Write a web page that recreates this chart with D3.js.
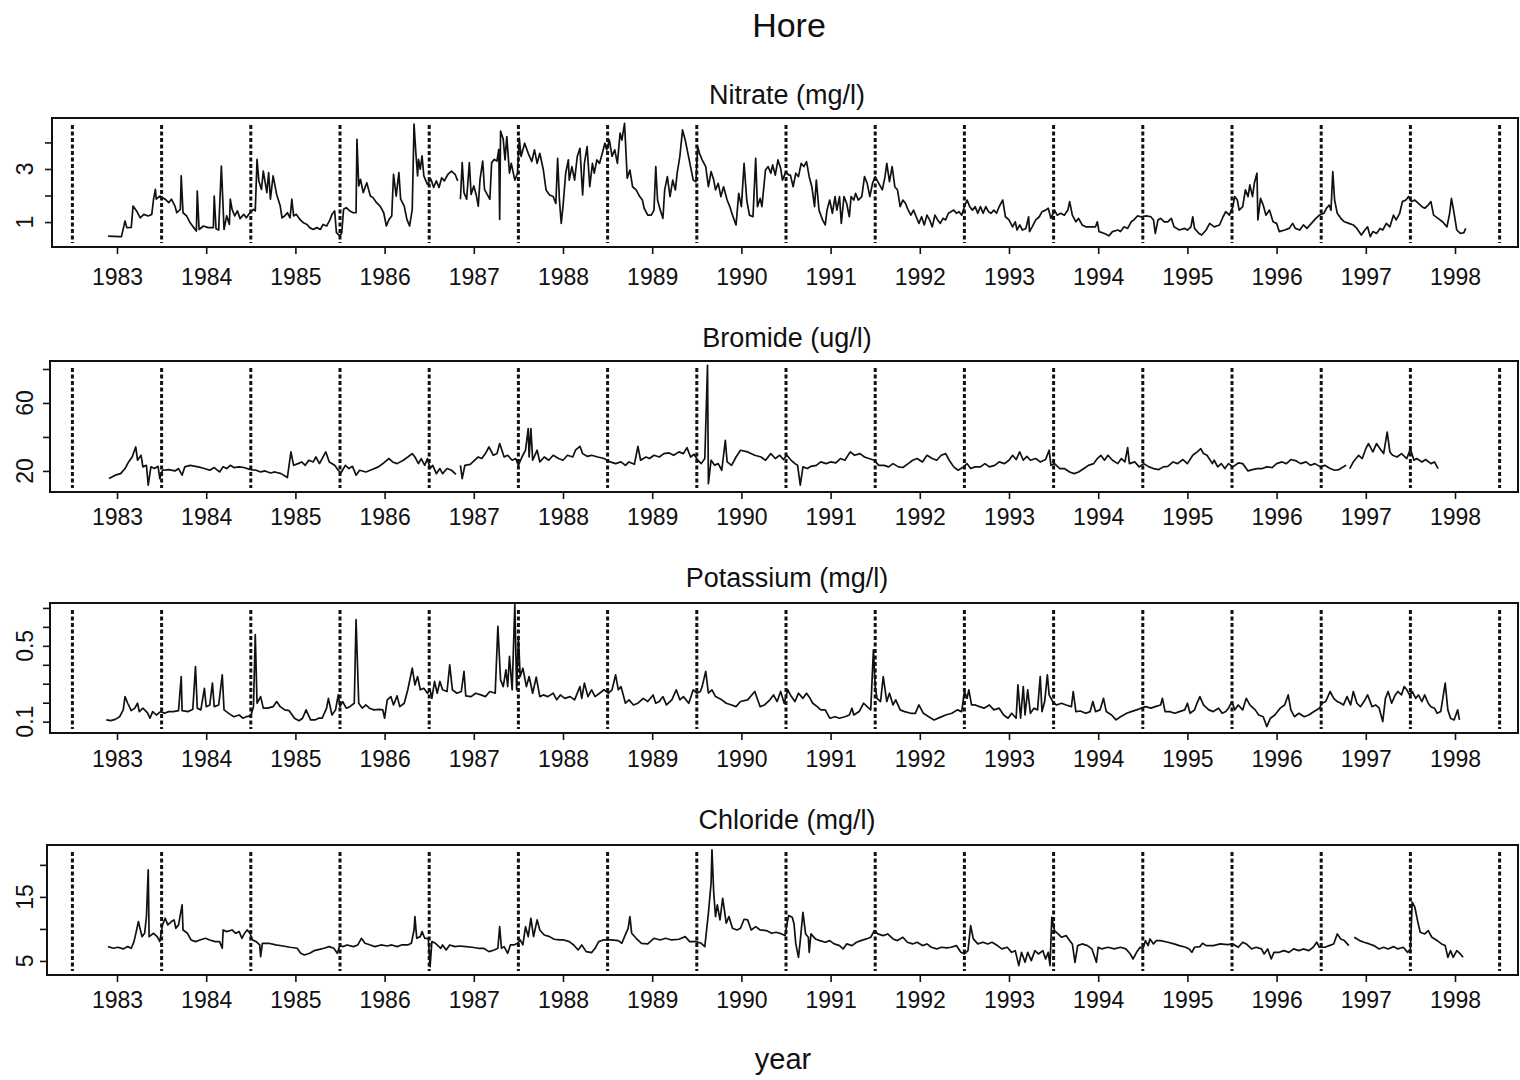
<!DOCTYPE html>
<html><head><meta charset="utf-8">
<script src="https://cdn.jsdelivr.net/npm/d3@7"></script>
<style>
html,body{margin:0;padding:0;background:#fff;}
svg{display:block;}
text{font-family:"Liberation Sans",Arial,Helvetica,sans-serif;fill:#111;}
</style>
</head><body>
<svg id="chart" width="1520" height="1080"></svg>
<script>
// ---------------- DATA ----------------
const mainTitle = "Hore";
const xAxisTitle = "year";
const yearTicks = [1983,1984,1985,1986,1987,1988,1989,1990,1991,1992,1993,1994,1995,1996,1997,1998];
const seasonBreaks = [1982.5,1983.5,1984.5,1985.5,1986.5,1987.5,1988.5,1989.5,1990.5,1991.5,1992.5,1993.5,1994.5,1995.5,1996.5,1997.5,1998.5];
const panelTitles = ["Nitrate (mg/l)","Bromide (ug/l)","Potassium (mg/l)","Chloride (mg/l)"];

const nitrateTicks = [1,2,3,4], nitrateLabels = [1,3];
const bromideTicks = [20,40,60,80], bromideLabels = [20,60];
const potassiumTicks = [0.1,0.2,0.3,0.4,0.5,0.6,0.7], potassiumLabels = [0.1,0.5];
const chlorideTicks = [5,10,15,20], chlorideLabels = [5,15];

// [decimal year, value]; null marks a gap in the record
const nitrate = [[1982.90,0.47],[1983.03,0.45],[1983.05,0.45],[1983.09,1.04],[1983.11,0.79],[1983.16,0.80],[1983.18,1.60],[1983.22,1.42],[1983.26,1.16],[1983.30,1.29],[1983.35,1.23],[1983.39,1.29],[1983.41,1.86],[1983.43,2.23],[1983.44,1.86],[1983.48,1.98],[1983.54,1.86],[1983.58,1.73],[1983.61,1.86],[1983.65,1.60],[1983.67,1.35],[1983.71,1.48],[1983.72,2.74],[1983.74,1.35],[1983.78,1.23],[1983.82,0.97],[1983.86,0.79],[1983.89,0.66],[1983.90,2.17],[1983.92,0.72],[1983.97,0.85],[1984.02,0.79],[1984.08,0.79],[1984.09,1.98],[1984.11,0.75],[1984.14,0.70],[1984.17,3.11],[1984.20,0.72],[1984.23,1.23],[1984.26,0.91],[1984.27,1.86],[1984.29,1.48],[1984.32,1.23],[1984.35,1.42],[1984.38,1.13],[1984.42,1.29],[1984.45,1.16],[1984.49,1.35],[1984.53,1.48],[1984.55,1.42],[1984.57,3.36],[1984.59,2.55],[1984.62,2.23],[1984.64,2.92],[1984.68,2.11],[1984.70,2.86],[1984.72,1.86],[1984.75,2.74],[1984.79,2.04],[1984.83,1.60],[1984.85,1.16],[1984.88,1.23],[1984.91,1.35],[1984.94,1.16],[1984.96,1.86],[1984.98,1.23],[1985.01,1.29],[1985.05,1.10],[1985.09,0.97],[1985.13,0.91],[1985.16,0.79],[1985.20,0.72],[1985.24,0.79],[1985.28,0.72],[1985.31,0.91],[1985.35,0.85],[1985.39,1.10],[1985.41,1.29],[1985.44,1.42],[1985.46,0.60],[1985.50,0.47],[1985.52,0.60],[1985.54,1.48],[1985.57,1.54],[1985.61,1.42],[1985.65,1.35],[1985.68,1.35],[1985.69,4.12],[1985.71,2.36],[1985.73,2.61],[1985.76,2.11],[1985.80,2.48],[1985.84,1.98],[1985.87,1.92],[1985.91,1.73],[1985.95,1.60],[1985.99,1.35],[1986.02,0.85],[1986.05,1.10],[1986.08,1.23],[1986.10,2.80],[1986.13,1.98],[1986.16,2.86],[1986.18,1.86],[1986.22,1.60],[1986.25,1.10],[1986.28,0.85],[1986.31,1.48],[1986.33,4.69],[1986.35,3.62],[1986.37,2.74],[1986.38,3.36],[1986.40,2.99],[1986.42,3.49],[1986.44,2.74],[1986.48,2.42],[1986.52,2.61],[1986.55,2.30],[1986.58,2.55],[1986.61,2.30],[1986.64,2.67],[1986.67,2.55],[1986.71,2.80],[1986.75,2.92],[1986.79,2.80],[1986.82,2.55],[1986.835,null],[1986.85,1.86],[1986.87,3.24],[1986.89,2.11],[1986.92,1.86],[1986.95,3.24],[1986.97,2.04],[1987.00,2.36],[1987.03,1.98],[1987.05,1.60],[1987.07,2.61],[1987.10,3.30],[1987.12,2.23],[1987.15,2.04],[1987.18,1.86],[1987.20,3.24],[1987.23,3.36],[1987.26,3.30],[1987.28,3.74],[1987.29,1.10],[1987.30,4.43],[1987.33,4.12],[1987.35,3.34],[1987.37,4.22],[1987.40,2.84],[1987.42,3.21],[1987.46,2.58],[1987.49,2.84],[1987.51,4.16],[1987.53,3.47],[1987.57,3.97],[1987.61,3.59],[1987.65,3.28],[1987.68,3.72],[1987.71,3.21],[1987.74,3.59],[1987.78,2.96],[1987.81,2.21],[1987.85,2.02],[1987.89,1.96],[1987.92,1.70],[1987.94,3.40],[1987.96,1.83],[1987.98,0.95],[1988.00,1.58],[1988.03,2.84],[1988.06,3.34],[1988.07,2.58],[1988.10,3.09],[1988.13,2.58],[1988.16,3.47],[1988.19,3.78],[1988.22,2.02],[1988.24,3.21],[1988.27,3.84],[1988.30,2.33],[1988.33,3.21],[1988.35,2.84],[1988.38,3.34],[1988.41,3.21],[1988.44,3.59],[1988.47,3.97],[1988.49,3.72],[1988.52,4.09],[1988.55,3.47],[1988.58,3.72],[1988.61,3.21],[1988.64,4.35],[1988.66,4.09],[1988.69,4.72],[1988.72,2.65],[1988.75,2.96],[1988.78,2.33],[1988.82,2.21],[1988.86,1.96],[1988.89,1.83],[1988.91,1.52],[1988.95,1.26],[1988.99,1.26],[1989.02,1.45],[1989.04,3.09],[1989.06,1.83],[1989.09,1.45],[1989.12,1.14],[1989.14,2.21],[1989.17,2.71],[1989.20,1.96],[1989.23,2.58],[1989.26,2.21],[1989.28,2.84],[1989.31,3.47],[1989.34,4.47],[1989.37,4.09],[1989.40,3.59],[1989.43,3.09],[1989.46,2.58],[1989.49,2.52],[1989.51,3.84],[1989.53,3.59],[1989.56,3.34],[1989.60,3.09],[1989.63,2.33],[1989.66,2.90],[1989.69,2.58],[1989.71,2.21],[1989.74,2.46],[1989.77,1.96],[1989.80,2.33],[1989.84,1.83],[1989.87,1.58],[1989.90,1.26],[1989.94,0.89],[1989.97,2.08],[1990.00,1.58],[1990.03,3.21],[1990.06,1.83],[1990.09,1.26],[1990.13,1.20],[1990.16,3.40],[1990.18,1.58],[1990.21,1.89],[1990.23,1.58],[1990.27,2.96],[1990.30,3.09],[1990.33,2.84],[1990.35,3.15],[1990.38,2.77],[1990.41,3.34],[1990.44,3.03],[1990.46,2.58],[1990.50,2.90],[1990.53,2.77],[1990.55,2.77],[1990.58,2.33],[1990.61,2.84],[1990.64,2.71],[1990.67,3.21],[1990.70,3.09],[1990.73,3.28],[1990.76,2.71],[1990.79,2.33],[1990.82,1.58],[1990.84,2.58],[1990.87,1.45],[1990.91,1.08],[1990.94,0.89],[1990.96,1.45],[1990.99,1.83],[1991.02,1.33],[1991.05,1.96],[1991.07,1.45],[1991.10,1.96],[1991.12,0.95],[1991.15,1.96],[1991.18,1.70],[1991.21,1.20],[1991.23,1.96],[1991.26,1.83],[1991.28,2.08],[1991.31,1.83],[1991.35,1.96],[1991.38,2.71],[1991.41,2.46],[1991.44,1.96],[1991.47,2.46],[1991.50,2.71],[1991.54,2.46],[1991.58,2.21],[1991.61,2.71],[1991.63,3.21],[1991.66,2.52],[1991.69,3.09],[1991.72,2.33],[1991.75,2.21],[1991.78,1.58],[1991.81,1.83],[1991.84,1.70],[1991.87,1.45],[1991.90,1.26],[1991.93,1.45],[1991.96,1.20],[1991.99,0.95],[1992.02,1.20],[1992.05,0.89],[1992.08,1.26],[1992.11,1.08],[1992.14,0.82],[1992.17,1.26],[1992.20,1.08],[1992.23,0.95],[1992.26,1.14],[1992.29,1.08],[1992.32,1.33],[1992.35,1.39],[1992.38,1.45],[1992.41,1.33],[1992.44,1.39],[1992.47,1.26],[1992.50,1.58],[1992.53,1.83],[1992.56,1.58],[1992.59,1.45],[1992.62,1.58],[1992.65,1.33],[1992.68,1.58],[1992.71,1.33],[1992.74,1.58],[1992.77,1.39],[1992.80,1.33],[1992.83,1.45],[1992.86,1.33],[1992.89,1.58],[1992.93,1.83],[1992.96,1.20],[1993.00,1.08],[1993.04,0.82],[1993.07,1.01],[1993.09,0.70],[1993.12,0.89],[1993.15,0.70],[1993.19,0.76],[1993.22,1.20],[1993.23,0.64],[1993.26,0.82],[1993.30,1.08],[1993.34,1.20],[1993.37,1.39],[1993.41,1.45],[1993.44,1.52],[1993.47,1.14],[1993.51,1.45],[1993.54,1.26],[1993.58,1.33],[1993.62,1.26],[1993.66,1.45],[1993.68,1.77],[1993.71,1.26],[1993.75,1.01],[1993.78,1.14],[1993.82,0.89],[1993.86,0.82],[1993.92,0.82],[1993.97,0.82],[1993.99,1.01],[1994.01,0.64],[1994.07,0.57],[1994.12,0.48],[1994.16,0.64],[1994.22,0.70],[1994.25,0.64],[1994.29,0.82],[1994.33,0.76],[1994.37,1.01],[1994.40,1.08],[1994.44,1.23],[1994.48,1.20],[1994.54,1.23],[1994.59,1.20],[1994.62,1.08],[1994.64,0.57],[1994.67,1.08],[1994.70,1.14],[1994.74,1.01],[1994.78,1.01],[1994.82,1.14],[1994.85,0.82],[1994.91,0.70],[1994.97,0.76],[1995.00,0.70],[1995.04,0.82],[1995.06,1.20],[1995.08,0.76],[1995.13,0.57],[1995.16,0.51],[1995.21,0.70],[1995.25,0.95],[1995.30,0.82],[1995.36,0.89],[1995.40,1.20],[1995.43,1.39],[1995.47,1.26],[1995.51,1.58],[1995.53,1.96],[1995.56,1.83],[1995.58,1.45],[1995.62,1.58],[1995.65,2.21],[1995.68,1.96],[1995.70,2.40],[1995.73,1.96],[1995.75,2.46],[1995.78,2.84],[1995.79,1.08],[1995.82,1.89],[1995.85,1.64],[1995.88,1.26],[1995.92,1.45],[1995.96,1.01],[1996.00,0.95],[1996.03,0.64],[1996.09,0.70],[1996.14,0.76],[1996.18,0.95],[1996.21,0.76],[1996.26,0.70],[1996.30,0.89],[1996.34,0.76],[1996.39,0.95],[1996.44,1.14],[1996.48,1.26],[1996.53,1.33],[1996.56,1.52],[1996.59,1.64],[1996.61,1.45],[1996.63,2.90],[1996.65,1.83],[1996.68,1.33],[1996.72,1.14],[1996.76,1.01],[1996.81,0.95],[1996.86,0.89],[1996.90,0.76],[1996.95,0.51],[1996.99,0.70],[1997.02,0.82],[1997.05,0.45],[1997.08,0.64],[1997.12,0.57],[1997.16,0.76],[1997.19,0.70],[1997.23,0.95],[1997.27,0.82],[1997.31,1.26],[1997.34,1.08],[1997.38,1.33],[1997.41,1.77],[1997.45,1.83],[1997.48,1.96],[1997.51,1.77],[1997.55,1.83],[1997.59,1.70],[1997.63,1.58],[1997.66,1.52],[1997.70,1.64],[1997.73,1.77],[1997.76,1.26],[1997.81,1.14],[1997.86,1.01],[1997.91,0.82],[1997.94,1.33],[1997.96,1.89],[1997.99,1.33],[1998.02,0.70],[1998.06,0.57],[1998.10,0.60],[1998.12,0.76]];

const bromide = [[1982.91,15.5],[1982.98,17.5],[1983.04,18.4],[1983.09,21.4],[1983.13,25.3],[1983.17,28.2],[1983.21,34.1],[1983.23,26.3],[1983.27,29.2],[1983.29,22.4],[1983.33,23.3],[1983.35,11.6],[1983.38,22.4],[1983.42,21.4],[1983.46,22.7],[1983.48,15.5],[1983.51,20.4],[1983.58,20.8],[1983.65,20.0],[1983.69,21.4],[1983.73,17.5],[1983.76,22.4],[1983.82,23.3],[1983.91,22.4],[1983.98,21.4],[1984.04,20.4],[1984.09,22.0],[1984.15,19.4],[1984.19,22.4],[1984.23,21.4],[1984.27,23.3],[1984.31,22.0],[1984.37,22.4],[1984.42,22.0],[1984.50,20.8],[1984.56,20.4],[1984.61,19.4],[1984.66,20.0],[1984.72,18.8],[1984.77,19.4],[1984.84,18.4],[1984.91,16.1],[1984.95,31.2],[1984.98,23.3],[1985.03,24.3],[1985.07,25.3],[1985.11,23.3],[1985.15,26.3],[1985.20,25.3],[1985.23,28.2],[1985.27,24.3],[1985.30,27.3],[1985.34,31.2],[1985.38,25.3],[1985.44,23.3],[1985.48,20.4],[1985.51,18.8],[1985.56,23.3],[1985.60,21.4],[1985.64,22.7],[1985.68,17.5],[1985.72,20.4],[1985.79,19.4],[1985.86,20.8],[1985.93,22.4],[1985.99,24.7],[1986.05,27.3],[1986.09,25.3],[1986.14,24.3],[1986.21,26.3],[1986.26,28.2],[1986.31,30.2],[1986.34,28.2],[1986.38,24.3],[1986.41,27.3],[1986.45,23.3],[1986.48,27.3],[1986.51,21.4],[1986.54,23.3],[1986.58,18.4],[1986.62,21.4],[1986.65,18.4],[1986.70,21.4],[1986.75,20.4],[1986.80,18.0],[1986.825,null],[1986.85,23.3],[1986.87,15.5],[1986.90,23.3],[1986.96,23.9],[1987.01,26.3],[1987.05,28.2],[1987.09,27.3],[1987.13,30.2],[1987.17,34.1],[1987.22,29.2],[1987.26,30.2],[1987.29,36.1],[1987.34,28.2],[1987.38,29.2],[1987.43,26.3],[1987.47,27.3],[1987.50,23.3],[1987.54,28.2],[1987.58,32.2],[1987.61,44.9],[1987.62,28.2],[1987.64,44.9],[1987.66,26.3],[1987.71,32.2],[1987.74,25.3],[1987.79,28.2],[1987.84,26.3],[1987.89,29.2],[1987.95,27.3],[1988.00,26.3],[1988.05,29.2],[1988.11,28.2],[1988.14,32.2],[1988.19,34.5],[1988.22,30.2],[1988.27,28.6],[1988.32,29.2],[1988.39,28.2],[1988.46,27.3],[1988.53,25.3],[1988.59,24.3],[1988.65,25.3],[1988.70,23.3],[1988.74,25.3],[1988.80,23.9],[1988.84,34.5],[1988.87,26.3],[1988.93,28.2],[1988.97,27.3],[1989.02,29.2],[1989.08,28.2],[1989.13,30.2],[1989.19,30.6],[1989.24,29.2],[1989.30,31.2],[1989.35,30.2],[1989.39,33.7],[1989.43,28.2],[1989.47,29.8],[1989.51,26.3],[1989.55,24.3],[1989.59,27.3],[1989.62,82.2],[1989.63,12.5],[1989.66,26.3],[1989.70,23.3],[1989.74,24.3],[1989.78,20.4],[1989.82,38.0],[1989.84,25.3],[1989.89,23.3],[1989.94,28.2],[1989.99,32.2],[1990.07,31.2],[1990.15,29.2],[1990.22,28.2],[1990.27,26.3],[1990.33,30.2],[1990.38,27.3],[1990.43,29.2],[1990.47,26.7],[1990.51,29.2],[1990.55,26.7],[1990.60,24.3],[1990.63,23.3],[1990.66,11.6],[1990.69,22.4],[1990.74,21.4],[1990.78,22.7],[1990.84,23.3],[1990.89,25.3],[1990.95,24.3],[1991.00,25.3],[1991.06,24.7],[1991.11,27.3],[1991.16,26.3],[1991.22,31.2],[1991.27,29.2],[1991.33,30.2],[1991.38,28.2],[1991.43,27.3],[1991.49,26.3],[1991.54,23.3],[1991.60,23.3],[1991.65,22.4],[1991.70,24.3],[1991.76,22.4],[1991.81,22.0],[1991.87,24.3],[1991.92,26.3],[1991.97,27.3],[1992.03,25.3],[1992.08,29.2],[1992.14,27.3],[1992.19,26.3],[1992.24,29.2],[1992.29,30.2],[1992.33,26.3],[1992.38,22.4],[1992.43,20.4],[1992.49,22.4],[1992.53,24.3],[1992.57,21.4],[1992.62,22.4],[1992.68,22.4],[1992.73,24.3],[1992.78,22.4],[1992.84,23.3],[1992.89,25.3],[1992.95,24.3],[1993.00,26.3],[1993.04,29.2],[1993.08,26.7],[1993.12,31.2],[1993.16,26.3],[1993.20,28.6],[1993.24,26.3],[1993.30,27.3],[1993.35,25.3],[1993.41,26.7],[1993.45,32.2],[1993.47,23.3],[1993.51,24.3],[1993.57,21.4],[1993.62,21.4],[1993.68,19.4],[1993.73,18.4],[1993.78,19.4],[1993.84,21.4],[1993.89,23.3],[1993.95,24.3],[1993.99,27.3],[1994.03,29.2],[1994.07,26.3],[1994.11,29.2],[1994.16,26.3],[1994.22,24.3],[1994.26,27.3],[1994.30,25.3],[1994.33,33.7],[1994.35,24.3],[1994.41,25.3],[1994.46,22.4],[1994.51,24.3],[1994.57,22.4],[1994.62,21.4],[1994.68,20.8],[1994.73,22.4],[1994.78,22.7],[1994.84,25.3],[1994.89,24.3],[1994.95,26.7],[1995.00,24.3],[1995.06,29.2],[1995.11,31.2],[1995.15,33.1],[1995.18,30.2],[1995.22,29.2],[1995.28,24.3],[1995.30,26.3],[1995.34,22.4],[1995.38,24.3],[1995.42,21.4],[1995.46,24.3],[1995.51,22.4],[1995.57,24.7],[1995.62,24.3],[1995.68,20.0],[1995.73,20.8],[1995.78,21.4],[1995.84,21.4],[1995.89,22.4],[1995.95,22.0],[1996.00,24.3],[1996.06,25.3],[1996.11,24.3],[1996.16,26.7],[1996.22,25.9],[1996.27,24.3],[1996.33,25.3],[1996.38,23.3],[1996.43,24.3],[1996.49,22.4],[1996.54,23.3],[1996.60,21.4],[1996.65,20.4],[1996.70,20.8],[1996.76,22.7],[1996.78,23.3],[1996.80,null],[1996.82,21.4],[1996.86,25.3],[1996.92,29.2],[1996.96,27.3],[1997.00,33.1],[1997.03,36.1],[1997.08,31.2],[1997.12,36.1],[1997.16,33.1],[1997.20,30.2],[1997.24,42.9],[1997.27,31.2],[1997.30,29.2],[1997.35,28.2],[1997.40,30.2],[1997.46,27.3],[1997.50,33.1],[1997.54,26.3],[1997.57,27.3],[1997.63,25.3],[1997.67,26.7],[1997.73,24.3],[1997.77,25.3],[1997.81,21.4]];

const potassium = [[1982.88,0.109],[1982.93,0.105],[1982.98,0.112],[1983.03,0.126],[1983.07,0.162],[1983.09,0.232],[1983.12,0.197],[1983.16,0.158],[1983.20,0.171],[1983.23,0.197],[1983.25,0.153],[1983.29,0.171],[1983.34,0.148],[1983.37,0.118],[1983.40,0.153],[1983.44,0.135],[1983.49,0.153],[1983.53,0.144],[1983.58,0.153],[1983.63,0.153],[1983.69,0.158],[1983.72,0.338],[1983.73,0.158],[1983.80,0.153],[1983.85,0.165],[1983.88,0.391],[1983.90,0.171],[1983.94,0.162],[1983.98,0.276],[1984.00,0.179],[1984.04,0.188],[1984.07,0.303],[1984.09,0.179],[1984.14,0.188],[1984.18,0.347],[1984.20,0.162],[1984.26,0.141],[1984.31,0.126],[1984.37,0.135],[1984.41,0.118],[1984.45,0.126],[1984.50,0.130],[1984.53,0.179],[1984.55,0.559],[1984.57,0.197],[1984.61,0.232],[1984.64,0.171],[1984.69,0.171],[1984.75,0.179],[1984.79,0.206],[1984.83,0.179],[1984.88,0.162],[1984.93,0.158],[1984.99,0.118],[1985.04,0.105],[1985.08,0.118],[1985.12,0.162],[1985.17,0.109],[1985.22,0.109],[1985.26,0.118],[1985.30,0.118],[1985.35,0.171],[1985.37,0.223],[1985.41,0.135],[1985.45,0.162],[1985.48,0.241],[1985.50,0.179],[1985.53,0.206],[1985.57,0.171],[1985.61,0.179],[1985.66,0.197],[1985.68,0.638],[1985.71,0.197],[1985.75,0.171],[1985.79,0.188],[1985.83,0.171],[1985.88,0.162],[1985.94,0.165],[1985.98,0.162],[1986.00,0.118],[1986.03,0.215],[1986.07,0.232],[1986.10,0.188],[1986.14,0.236],[1986.17,0.179],[1986.22,0.197],[1986.26,0.268],[1986.31,0.382],[1986.34,0.294],[1986.37,0.338],[1986.40,0.268],[1986.44,0.276],[1986.48,0.250],[1986.51,0.268],[1986.53,0.223],[1986.56,0.312],[1986.59,0.250],[1986.62,0.312],[1986.65,0.268],[1986.70,0.259],[1986.73,0.400],[1986.76,0.268],[1986.81,0.250],[1986.86,0.259],[1986.89,0.365],[1986.91,0.236],[1986.97,0.232],[1987.02,0.250],[1987.08,0.241],[1987.13,0.232],[1987.18,0.259],[1987.24,0.250],[1987.27,0.603],[1987.30,0.320],[1987.33,0.285],[1987.36,0.373],[1987.38,0.285],[1987.40,0.444],[1987.43,0.268],[1987.46,0.717],[1987.48,0.268],[1987.50,0.550],[1987.52,0.338],[1987.55,0.382],[1987.59,0.285],[1987.62,0.338],[1987.66,0.250],[1987.70,0.335],[1987.74,0.232],[1987.78,0.241],[1987.83,0.232],[1987.89,0.250],[1987.93,0.215],[1987.97,0.241],[1988.02,0.223],[1988.08,0.232],[1988.13,0.215],[1988.19,0.285],[1988.21,0.223],[1988.24,0.303],[1988.28,0.232],[1988.32,0.268],[1988.36,0.232],[1988.41,0.250],[1988.46,0.268],[1988.51,0.250],[1988.55,0.268],[1988.59,0.347],[1988.62,0.268],[1988.65,0.285],[1988.70,0.197],[1988.74,0.215],[1988.79,0.188],[1988.84,0.197],[1988.90,0.223],[1988.95,0.206],[1989.01,0.241],[1989.04,0.197],[1989.08,0.206],[1989.12,0.232],[1989.16,0.188],[1989.22,0.215],[1989.27,0.268],[1989.31,0.215],[1989.35,0.232],[1989.41,0.197],[1989.46,0.268],[1989.50,0.250],[1989.54,0.259],[1989.56,0.285],[1989.60,0.365],[1989.63,0.250],[1989.67,0.268],[1989.71,0.232],[1989.78,0.215],[1989.83,0.197],[1989.89,0.188],[1989.94,0.179],[1989.99,0.206],[1990.07,0.215],[1990.15,0.259],[1990.21,0.179],[1990.26,0.188],[1990.32,0.215],[1990.36,0.241],[1990.40,0.206],[1990.44,0.259],[1990.48,0.197],[1990.52,0.268],[1990.56,0.232],[1990.60,0.206],[1990.64,0.250],[1990.69,0.223],[1990.73,0.250],[1990.77,0.223],[1990.80,0.197],[1990.85,0.179],[1990.89,0.162],[1990.94,0.162],[1990.99,0.118],[1991.05,0.126],[1991.10,0.118],[1991.16,0.126],[1991.21,0.135],[1991.24,0.171],[1991.26,0.135],[1991.32,0.153],[1991.37,0.197],[1991.41,0.179],[1991.45,0.162],[1991.48,0.479],[1991.50,0.285],[1991.52,0.223],[1991.56,0.206],[1991.59,0.338],[1991.63,0.206],[1991.66,0.250],[1991.70,0.188],[1991.73,0.215],[1991.78,0.162],[1991.83,0.153],[1991.90,0.144],[1991.95,0.144],[1991.99,0.188],[1992.04,0.144],[1992.10,0.126],[1992.16,0.109],[1992.22,0.121],[1992.29,0.135],[1992.36,0.144],[1992.42,0.162],[1992.47,0.153],[1992.50,0.259],[1992.53,0.223],[1992.55,0.268],[1992.58,0.188],[1992.62,0.188],[1992.67,0.179],[1992.72,0.171],[1992.78,0.188],[1992.83,0.162],[1992.89,0.171],[1992.94,0.135],[1992.99,0.118],[1993.03,0.144],[1993.08,0.118],[1993.10,0.294],[1993.13,0.118],[1993.16,0.285],[1993.18,0.135],[1993.21,0.268],[1993.24,0.144],[1993.28,0.171],[1993.32,0.162],[1993.35,0.338],[1993.37,0.153],[1993.40,0.206],[1993.43,0.347],[1993.45,0.241],[1993.49,0.206],[1993.53,0.188],[1993.59,0.197],[1993.64,0.188],[1993.70,0.179],[1993.72,0.259],[1993.75,0.153],[1993.80,0.156],[1993.86,0.144],[1993.91,0.153],[1993.94,0.206],[1993.97,0.153],[1994.02,0.162],[1994.06,0.223],[1994.09,0.153],[1994.15,0.135],[1994.20,0.109],[1994.25,0.126],[1994.32,0.144],[1994.37,0.153],[1994.43,0.162],[1994.48,0.171],[1994.53,0.179],[1994.59,0.171],[1994.64,0.179],[1994.70,0.188],[1994.72,0.223],[1994.75,0.153],[1994.80,0.153],[1994.86,0.144],[1994.91,0.153],[1994.97,0.162],[1995.00,0.197],[1995.03,0.144],[1995.08,0.162],[1995.10,0.188],[1995.14,0.232],[1995.18,0.188],[1995.24,0.162],[1995.29,0.153],[1995.35,0.171],[1995.39,0.144],[1995.43,0.153],[1995.46,0.171],[1995.50,0.206],[1995.53,0.162],[1995.57,0.188],[1995.62,0.162],[1995.66,0.223],[1995.70,0.188],[1995.76,0.162],[1995.80,0.135],[1995.85,0.126],[1995.89,0.074],[1995.93,0.118],[1995.98,0.135],[1996.04,0.171],[1996.09,0.188],[1996.13,0.241],[1996.16,0.162],[1996.20,0.126],[1996.25,0.144],[1996.31,0.126],[1996.36,0.135],[1996.42,0.153],[1996.48,0.171],[1996.51,0.197],[1996.55,0.206],[1996.60,0.259],[1996.64,0.223],[1996.68,0.206],[1996.72,0.197],[1996.75,0.188],[1996.79,0.232],[1996.83,0.188],[1996.86,0.259],[1996.90,0.197],[1996.94,0.179],[1996.98,0.206],[1997.02,0.241],[1997.07,0.179],[1997.11,0.188],[1997.15,0.171],[1997.19,0.100],[1997.22,0.223],[1997.25,0.259],[1997.29,0.197],[1997.33,0.241],[1997.36,0.259],[1997.40,0.241],[1997.43,0.285],[1997.46,0.268],[1997.49,0.241],[1997.52,0.259],[1997.56,0.223],[1997.59,0.241],[1997.63,0.206],[1997.66,0.241],[1997.70,0.197],[1997.73,0.179],[1997.77,0.171],[1997.80,0.144],[1997.84,0.153],[1997.89,0.303],[1997.92,0.162],[1997.95,0.118],[1997.99,0.109],[1998.03,0.162],[1998.05,0.109]];

const chloride = [[1982.90,7.24],[1982.96,6.98],[1983.01,7.14],[1983.07,6.88],[1983.12,7.24],[1983.16,6.98],[1983.19,8.02],[1983.22,9.84],[1983.24,11.15],[1983.28,8.80],[1983.31,9.32],[1983.33,11.93],[1983.35,19.22],[1983.36,8.80],[1983.41,9.32],[1983.45,8.80],[1983.48,8.02],[1983.51,10.63],[1983.54,11.67],[1983.57,10.63],[1983.61,11.15],[1983.64,11.41],[1983.66,10.10],[1983.69,10.63],[1983.73,13.75],[1983.74,9.84],[1983.79,9.32],[1983.83,8.28],[1983.88,8.02],[1983.93,8.28],[1983.99,8.54],[1984.04,8.28],[1984.10,8.02],[1984.15,8.02],[1984.18,6.98],[1984.19,9.84],[1984.23,9.58],[1984.29,9.84],[1984.33,9.32],[1984.37,9.58],[1984.40,8.54],[1984.43,9.32],[1984.46,9.84],[1984.49,9.32],[1984.52,8.28],[1984.56,8.02],[1984.60,7.50],[1984.61,5.68],[1984.63,7.76],[1984.70,7.76],[1984.78,7.50],[1984.86,7.34],[1984.94,7.14],[1985.02,6.98],[1985.06,6.20],[1985.10,5.94],[1985.16,6.20],[1985.21,6.61],[1985.27,6.82],[1985.32,6.98],[1985.38,7.24],[1985.43,6.98],[1985.47,6.20],[1985.50,7.50],[1985.53,7.24],[1985.58,7.50],[1985.65,7.24],[1985.70,7.50],[1985.74,8.54],[1985.78,7.76],[1985.84,7.50],[1985.89,7.24],[1985.96,7.50],[1986.03,7.34],[1986.08,7.50],[1986.14,7.24],[1986.19,7.50],[1986.26,7.50],[1986.30,7.76],[1986.33,9.84],[1986.34,11.93],[1986.36,8.54],[1986.40,8.80],[1986.42,9.58],[1986.45,8.54],[1986.49,8.54],[1986.51,4.11],[1986.53,8.02],[1986.57,7.76],[1986.63,6.98],[1986.65,7.50],[1986.69,6.72],[1986.73,7.50],[1986.79,7.24],[1986.84,7.34],[1986.91,7.24],[1986.98,7.14],[1987.05,6.98],[1987.11,6.98],[1987.17,6.46],[1987.23,6.72],[1987.27,6.98],[1987.29,10.36],[1987.31,6.98],[1987.34,7.24],[1987.38,6.20],[1987.41,7.50],[1987.45,7.50],[1987.49,7.76],[1987.52,8.28],[1987.55,7.50],[1987.58,10.36],[1987.61,8.80],[1987.64,11.67],[1987.67,8.80],[1987.71,11.41],[1987.74,9.84],[1987.79,9.06],[1987.85,8.80],[1987.90,8.39],[1987.96,8.28],[1988.01,8.28],[1988.07,8.02],[1988.12,7.50],[1988.17,6.72],[1988.21,7.50],[1988.26,6.46],[1988.32,6.30],[1988.36,6.98],[1988.40,8.02],[1988.45,8.28],[1988.54,8.28],[1988.62,8.18],[1988.66,7.76],[1988.69,8.80],[1988.73,10.10],[1988.75,11.93],[1988.77,9.32],[1988.82,8.54],[1988.88,7.76],[1988.95,7.66],[1989.02,8.54],[1989.09,8.28],[1989.15,8.54],[1989.22,8.28],[1989.30,8.39],[1989.37,8.80],[1989.42,8.02],[1989.49,8.02],[1989.55,7.76],[1989.59,7.24],[1989.61,9.84],[1989.63,12.45],[1989.66,17.14],[1989.67,22.34],[1989.69,15.57],[1989.71,11.93],[1989.73,13.75],[1989.76,11.41],[1989.79,14.79],[1989.83,10.89],[1989.86,11.93],[1989.90,10.10],[1989.95,9.84],[1989.99,10.10],[1990.03,11.51],[1990.07,11.41],[1990.11,9.84],[1990.16,10.36],[1990.21,9.84],[1990.28,9.74],[1990.34,9.32],[1990.39,9.48],[1990.45,9.22],[1990.49,8.96],[1990.51,10.78],[1990.53,12.08],[1990.57,11.82],[1990.59,10.78],[1990.61,7.66],[1990.64,5.57],[1990.66,8.18],[1990.69,12.60],[1990.72,9.22],[1990.75,8.70],[1990.76,6.35],[1990.78,9.22],[1990.83,8.44],[1990.88,8.18],[1990.94,7.92],[1990.99,8.18],[1991.04,7.66],[1991.10,7.40],[1991.14,6.88],[1991.18,7.66],[1991.24,7.40],[1991.29,7.92],[1991.34,8.18],[1991.40,8.44],[1991.45,8.70],[1991.49,9.74],[1991.53,9.22],[1991.59,8.96],[1991.64,9.22],[1991.70,8.44],[1991.75,8.18],[1991.81,8.70],[1991.86,7.92],[1991.92,7.66],[1991.97,7.92],[1992.03,7.40],[1992.08,7.66],[1992.13,7.14],[1992.19,6.88],[1992.24,7.14],[1992.30,7.03],[1992.35,7.14],[1992.41,7.40],[1992.46,6.35],[1992.50,6.09],[1992.54,6.61],[1992.57,10.52],[1992.60,8.44],[1992.65,7.66],[1992.71,7.92],[1992.76,7.66],[1992.81,7.92],[1992.87,7.40],[1992.92,6.88],[1992.98,7.14],[1993.03,6.35],[1993.07,6.61],[1993.11,4.27],[1993.14,6.35],[1993.18,4.79],[1993.21,6.35],[1993.25,5.05],[1993.29,6.61],[1993.33,6.09],[1993.38,6.61],[1993.41,5.31],[1993.44,6.35],[1993.46,4.27],[1993.48,11.82],[1993.51,9.74],[1993.55,9.22],[1993.59,8.70],[1993.64,8.96],[1993.68,8.18],[1993.71,7.66],[1993.74,4.79],[1993.77,7.40],[1993.82,7.66],[1993.88,7.40],[1993.93,6.88],[1993.98,4.79],[1994.00,7.14],[1994.04,6.88],[1994.11,7.14],[1994.18,6.88],[1994.25,7.14],[1994.31,6.88],[1994.36,6.09],[1994.39,5.31],[1994.43,6.35],[1994.47,7.14],[1994.50,6.88],[1994.53,8.18],[1994.56,7.40],[1994.58,8.44],[1994.62,7.66],[1994.65,8.18],[1994.70,8.18],[1994.78,7.92],[1994.85,7.66],[1994.91,7.40],[1994.98,7.14],[1995.02,6.88],[1995.05,6.35],[1995.08,7.14],[1995.14,7.24],[1995.17,7.76],[1995.21,7.40],[1995.29,7.40],[1995.37,7.66],[1995.45,7.55],[1995.51,7.66],[1995.57,7.14],[1995.62,7.92],[1995.66,7.66],[1995.72,6.88],[1995.77,7.14],[1995.83,6.88],[1995.86,6.09],[1995.90,6.88],[1995.94,5.31],[1995.97,6.35],[1996.03,6.35],[1996.08,6.61],[1996.14,6.35],[1996.19,6.88],[1996.25,6.61],[1996.30,6.88],[1996.36,6.61],[1996.41,7.14],[1996.45,7.92],[1996.48,7.14],[1996.54,7.14],[1996.59,7.40],[1996.64,7.66],[1996.68,9.22],[1996.72,8.44],[1996.76,8.18],[1996.81,7.40],[1996.84,null],[1996.87,8.70],[1996.93,8.18],[1996.98,7.92],[1997.04,7.66],[1997.09,7.40],[1997.15,6.88],[1997.20,7.14],[1997.25,6.88],[1997.31,7.24],[1997.36,6.88],[1997.42,7.14],[1997.47,6.35],[1997.50,6.88],[1997.52,14.17],[1997.55,13.39],[1997.58,11.30],[1997.61,9.48],[1997.66,9.22],[1997.70,9.74],[1997.74,8.70],[1997.80,8.18],[1997.85,7.66],[1997.89,7.40],[1997.92,5.57],[1997.95,6.61],[1997.98,5.57],[1998.02,6.61],[1998.06,6.09],[1998.09,5.57]];

// ---------------- LAYOUT ----------------
const W = 1520, H = 1080;
const boxRight = 1518;
const panels = [
  {title: panelTitles[0], data: nitrate,   ticks: nitrateTicks,   labels: nitrateLabels,   fmt: d3.format("d"),   domain: [0.06, 4.92], top: 118, bottom: 247, left: 52, titleBase: 104, labelPad: 15},
  {title: panelTitles[1], data: bromide,   ticks: bromideTicks,   labels: bromideLabels,   fmt: d3.format("d"),   domain: [7.6, 84.7],  top: 361, bottom: 492, left: 50, titleBase: 347, labelPad: 10},
  {title: panelTitles[2], data: potassium, ticks: potassiumTicks, labels: potassiumLabels, fmt: d3.format(".1f"), domain: [0.040, 0.726], top: 603, bottom: 733, left: 50, titleBase: 587, labelPad: 11},
  {title: panelTitles[3], data: chloride,  ticks: chlorideTicks,  labels: chlorideLabels,  fmt: d3.format("d"),   domain: [2.81, 23.1], top: 845, bottom: 975, left: 47, titleBase: 829, labelPad: 10}
];

const svg = d3.select("#chart");
svg.append("rect").attr("width", W).attr("height", H).attr("fill", "#fff");

const x = d3.scaleLinear().domain([1983, 1998]).range([117, 1455]);

svg.append("text").attr("x", 789).attr("y", 37).attr("text-anchor", "middle")
  .style("font-size", "34px").text(mainTitle);
svg.append("text").attr("x", 783).attr("y", 1069).attr("text-anchor", "middle")
  .style("font-size", "29px").text(xAxisTitle);

panels.forEach((p, i) => {
  const g = svg.append("g");
  const y = d3.scaleLinear().domain(p.domain).range([p.bottom, p.top]);

  g.append("text").attr("x", 787).attr("y", p.titleBase).attr("text-anchor", "middle")
    .style("font-size", "27px").text(p.title);

  const clipId = "clip" + i;
  svg.append("clipPath").attr("id", clipId).append("rect")
    .attr("x", p.left).attr("y", p.top).attr("width", boxRight - p.left).attr("height", p.bottom - p.top);

  // season dotted lines
  g.selectAll("line.brk").data(seasonBreaks).join("line").attr("class", "brk")
    .attr("x1", d => x(d)).attr("x2", d => x(d))
    .attr("y1", p.top + 7).attr("y2", p.bottom - 4)
    .attr("stroke", "#111").attr("stroke-width", 3).attr("stroke-dasharray", "4,2.5");

  // data line
  const line = d3.line().defined(d => d[1] != null).x(d => x(d[0])).y(d => y(d[1]));
  g.append("path").datum(p.data).attr("d", line)
    .attr("clip-path", `url(#${clipId})`)
    .attr("fill", "none").attr("stroke", "#111").attr("stroke-width", 1.7)
    .attr("stroke-linejoin", "round");

  // x axis
  const xa = g.append("g").attr("transform", `translate(0,${p.bottom})`)
    .call(d3.axisBottom(x).tickValues(yearTicks).tickFormat(d3.format("d")).tickSize(7).tickPadding(p.labelPad));
  xa.select(".domain").remove();
  xa.selectAll(".tick line").attr("stroke", "#111").attr("stroke-width", 1.6);
  xa.selectAll(".tick text").style("font-size", "23px").attr("fill", "#111")
    .style("font-family", "'Liberation Sans',Arial,Helvetica,sans-serif");

  // y axis ticks
  const ya = g.append("g").attr("transform", `translate(${p.left},0)`)
    .call(d3.axisLeft(y).tickValues(p.ticks).tickSize(7).tickFormat(""));
  ya.select(".domain").remove();
  ya.selectAll(".tick line").attr("stroke", "#111").attr("stroke-width", 1.6);

  // rotated y labels
  g.selectAll("text.yl").data(p.labels).join("text").attr("class", "yl")
    .attr("x", 33).attr("y", d => y(d))
    .attr("transform", d => `rotate(-90,33,${y(d)})`)
    .attr("text-anchor", "middle")
    .style("font-size", "23px").text(d => p.fmt(d));

  // box
  g.append("rect").attr("x", p.left).attr("y", p.top)
    .attr("width", boxRight - p.left).attr("height", p.bottom - p.top)
    .attr("fill", "none").attr("stroke", "#111").attr("stroke-width", 2);
});
</script>
</body></html>
